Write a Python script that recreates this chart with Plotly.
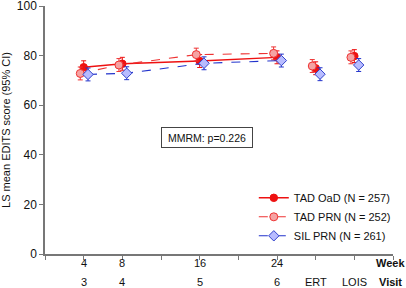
import plotly.graph_objects as go

# ---- data ----
weeks = [4, 8, 16, 24]
extra_pos = [28, 32]           # ERT, LOIS positions on week axis
extra_labels = ["ERT", "LOIS"]

tad_oad_weeks = [75.3, 76.7, 77.8, 79.3]
tad_oad_extra = [74.9, 79.8]
tad_prn_weeks = [72.8, 76.2, 80.4, 80.9]
tad_prn_extra = [75.8, 79.3]
sil_prn_weeks = [72.4, 72.9, 76.9, 78.0]
sil_prn_extra = [72.5, 76.2]

ci_half = 2.6

week_tick_vals = [0, 4, 8, 12, 16, 20, 24, 28, 32, 36]
week_row = {4: "4", 8: "8", 16: "16", 24: "24", 36: "<b>Week</b>"}
visit_row = {4: "3", 8: "4", 16: "5", 24: "6", 28: "ERT", 32: "LOIS", 36: "<b>Visit</b>"}

series = [
    dict(name="TAD OaD (N = 257)", w=tad_oad_weeks, e=tad_oad_extra, off=0.0,
         color="#ee1111", dash="solid", width=1.4,
         marker=dict(symbol="circle", size=7.5, color="#ee1111", line=dict(color="#ee1111", width=1))),
    dict(name="TAD PRN (N = 252)", w=tad_prn_weeks, e=tad_prn_extra, off=-0.35,
         color="#ee3333", dash="dash", width=1.1,
         marker=dict(symbol="circle", size=8, color="#f5a3a3", line=dict(color="#ee3333", width=1))),
    dict(name="SIL PRN (N = 261)", w=sil_prn_weeks, e=sil_prn_extra, off=0.45,
         color="#2233cc", dash="dash", width=1.1,
         marker=dict(symbol="diamond", size=8, color="#b8bcff", line=dict(color="#3344cc", width=1))),
]

fig = go.Figure()
for i, s in enumerate(series):
    xs = [w + s["off"] for w in weeks]
    fig.add_trace(go.Scatter(
        x=xs, y=s["w"], name=s["name"], mode="lines+markers",
        line=dict(color=s["color"], dash=s["dash"], width=s["width"]),
        marker=s["marker"],
        error_y=dict(type="constant", value=ci_half, color=s["color"], thickness=1, width=2.5),
        legendrank=i,
    ))
    fig.add_trace(go.Scatter(
        x=[p + s["off"] for p in extra_pos], y=s["e"], mode="markers", showlegend=False,
        marker=s["marker"],
        error_y=dict(type="constant", value=ci_half, color=s["color"], thickness=1, width=2.5),
    ))

font_fam = "Liberation Sans, Arial, sans-serif"

anns = []
for k, t in week_row.items():
    anns.append(dict(x=k, y=-0.037, xref="x", yref="paper", text=t, showarrow=False,
                     xanchor="center", yanchor="middle", xshift=(-3 if k == 36 else 0),
                     font=dict(size=11, color="#111")))
for k, t in visit_row.items():
    anns.append(dict(x=k, y=-0.113, xref="x", yref="paper", text=t, showarrow=False,
                     xanchor="center", yanchor="middle", xshift=(-3 if k == 36 else 0),
                     font=dict(size=11, color="#111")))
anns.append(dict(x=16.8, y=46.8, xref="x", yref="y", text="MMRM: p=0.226", showarrow=False,
                 xanchor="center", yanchor="middle", font=dict(size=10.5, color="#111"),
                 bordercolor="#444", borderwidth=1, borderpad=1, width=88, height=17,
                 bgcolor="white"))

fig.update_layout(
    width=406, height=288,
    margin=dict(l=45, r=13, t=6, b=34, autoexpand=False),
    paper_bgcolor="white", plot_bgcolor="white",
    font=dict(family=font_fam, size=11, color="#111"),
    showlegend=True,
    legend=dict(x=0.60, y=0.285, xanchor="left", yanchor="top",
                bgcolor="rgba(0,0,0,0)", font=dict(size=11), tracegroupgap=0,
                itemwidth=30),
    annotations=anns,
)
fig.update_xaxes(range=[0, 36], tickvals=week_tick_vals, showticklabels=False,
                 ticks="outside", ticklen=4, tickcolor="#777", showline=True,
                 linecolor="#777", linewidth=1.5, showgrid=False, zeroline=False)
fig.update_yaxes(range=[0, 100], tickvals=[0, 20, 40, 60, 80, 100],
                 ticks="outside", ticklen=4, tickcolor="#777", showline=True,
                 linecolor="#777", linewidth=1.5, showgrid=False, zeroline=False,
                 tickfont=dict(size=12), ticklabeloverflow="allow",
                 title=dict(text="LS mean EDITS score (95% CI)", font=dict(size=11), standoff=5))

fig.write_html("out.html", config={"displayModeBar": False},
               post_script="document.body.style.margin='0';document.body.style.overflow='hidden';")
